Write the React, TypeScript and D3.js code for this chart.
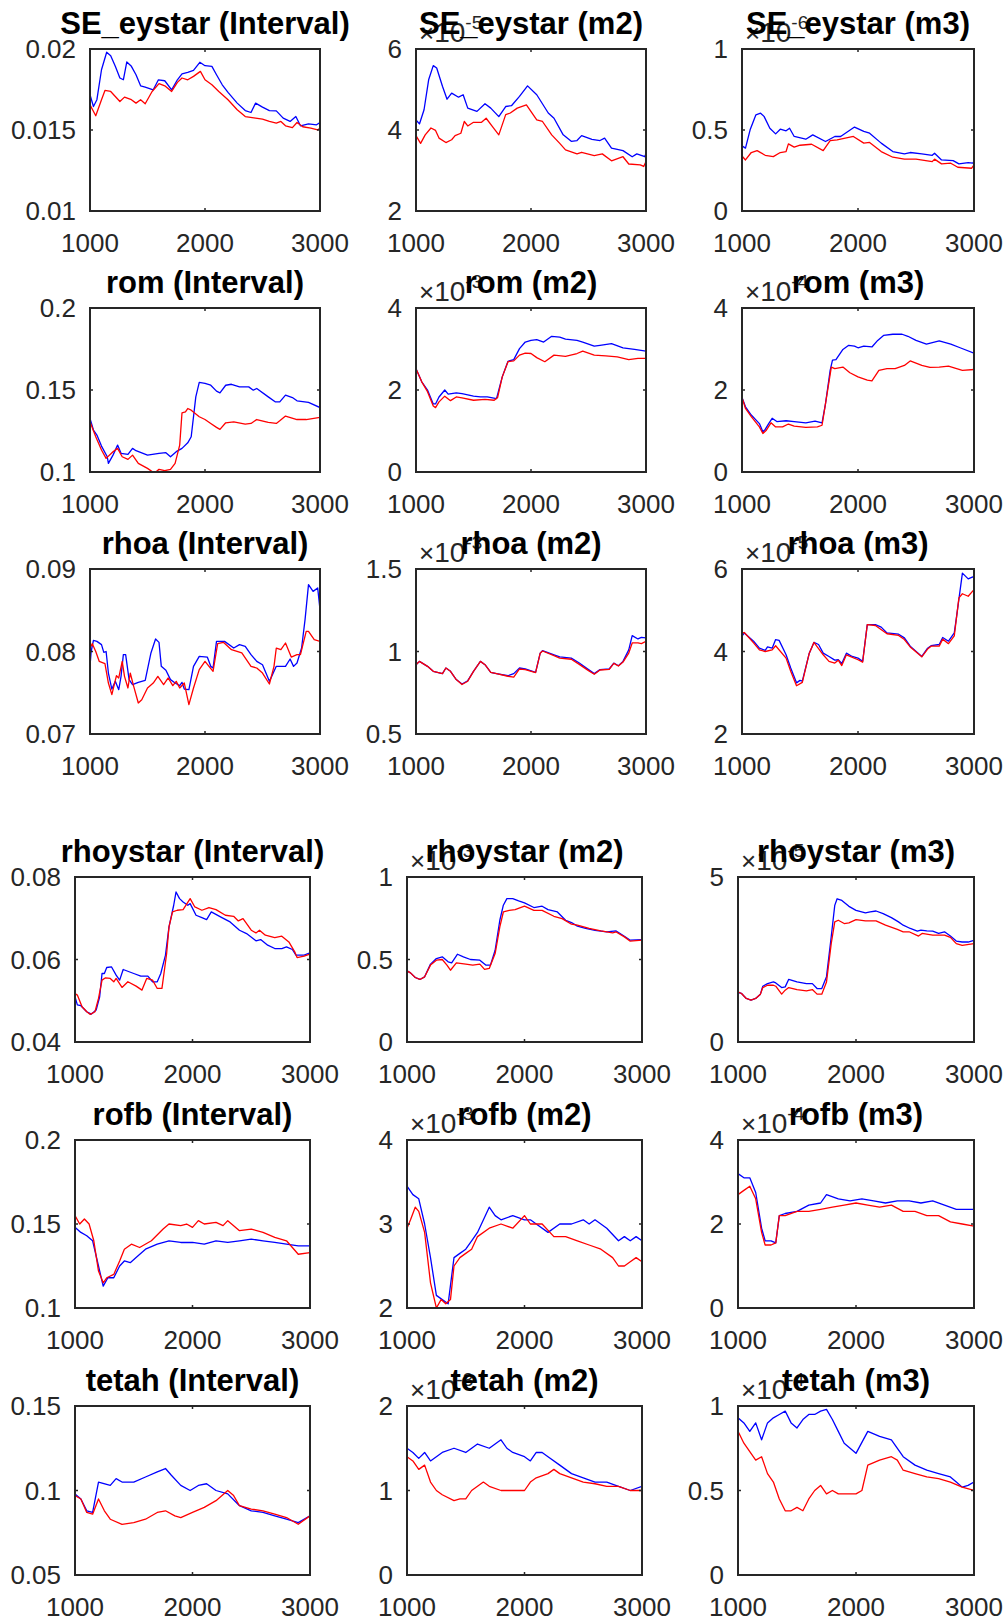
import React from 'react';
import * as d3 from 'd3';

type Pt = [number, number];

// ---------- X axis ----------
const xDomain: [number, number] = [1000, 3000];
const xTicks = [1000, 2000, 3000];

// ---------- SE_eystar ----------
const seIntBlue: Pt[] = [[1000,0.01718],[1030,0.01645],[1060,0.01687],[1100,0.01872],[1145,0.0198],[1180,0.01959],[1220,0.01893],[1260,0.01821],[1290,0.0181],[1320,0.0192],[1360,0.01893],[1400,0.01841],[1440,0.01773],[1480,0.01765],[1550,0.01748],[1595,0.0181],[1650,0.01804],[1710,0.01748],[1760,0.0181],[1800,0.01847],[1850,0.01856],[1900,0.01868],[1955,0.01918],[2000,0.01897],[2060,0.01893],[2100,0.01841],[2150,0.01779],[2200,0.01732],[2280,0.01666],[2350,0.0162],[2400,0.01608],[2440,0.01666],[2500,0.01641],[2560,0.0162],[2620,0.01618],[2680,0.01573],[2740,0.01553],[2790,0.01583],[2830,0.01526],[2900,0.01538],[2970,0.01532],[3000,0.01546]];
const seIntRed: Pt[] = [[1000,0.01656],[1050,0.01588],[1100,0.01687],[1130,0.01744],[1180,0.01738],[1260,0.01676],[1300,0.01703],[1360,0.01687],[1400,0.01666],[1440,0.01687],[1480,0.01662],[1540,0.01738],[1600,0.01786],[1650,0.01773],[1710,0.01738],[1760,0.01794],[1800,0.01821],[1850,0.0181],[1900,0.01831],[1960,0.01862],[2000,0.0181],[2060,0.01779],[2120,0.01738],[2200,0.01687],[2280,0.01625],[2350,0.01583],[2440,0.01573],[2500,0.01567],[2560,0.01553],[2620,0.01542],[2660,0.01553],[2700,0.01526],[2760,0.01515],[2800,0.01546],[2850,0.0152],[2920,0.01511],[2980,0.01501],[3000,0.01511]];
const seM2Blue: Pt[] = [[1000,4.25],[1030,4.15],[1070,4.5],[1110,5.24],[1150,5.59],[1180,5.53],[1230,5.08],[1270,4.76],[1310,4.91],[1370,4.81],[1410,4.87],[1450,4.54],[1530,4.46],[1600,4.65],[1650,4.54],[1720,4.33],[1780,4.58],[1830,4.6],[1900,4.83],[1970,5.09],[2050,4.87],[2150,4.42],[2200,4.29],[2280,3.88],[2350,3.72],[2400,3.74],[2440,3.86],[2530,3.77],[2600,3.74],[2640,3.8],[2700,3.55],[2800,3.49],[2880,3.34],[2920,3.41],[2990,3.34],[3000,3.43]];
const seM2Red: Pt[] = [[1000,3.86],[1040,3.67],[1080,3.88],[1130,4.05],[1170,3.99],[1200,3.8],[1260,3.69],[1310,3.76],[1340,3.86],[1390,3.92],[1420,4.21],[1450,4.1],[1500,4.19],[1570,4.19],[1610,4.29],[1660,4.1],[1720,3.88],[1780,4.38],[1820,4.42],[1880,4.54],[1960,4.62],[2050,4.25],[2100,4.21],[2180,3.88],[2250,3.67],[2300,3.51],[2400,3.41],[2440,3.45],[2550,3.37],[2620,3.41],[2700,3.24],[2800,3.34],[2850,3.16],[2950,3.14],[2980,3.1],[3000,3.22]];
const seM3Blue: Pt[] = [[1000,0.402],[1030,0.388],[1070,0.501],[1120,0.594],[1160,0.604],[1190,0.584],[1240,0.511],[1290,0.476],[1330,0.505],[1380,0.495],[1410,0.511],[1450,0.46],[1550,0.443],[1610,0.47],[1720,0.429],[1800,0.46],[1850,0.46],[1970,0.518],[2050,0.491],[2100,0.48],[2200,0.419],[2300,0.367],[2400,0.353],[2450,0.361],[2550,0.353],[2640,0.344],[2660,0.357],[2720,0.315],[2820,0.311],[2870,0.291],[2950,0.299],[2990,0.295],[3000,0.309]];
const seM3Red: Pt[] = [[1000,0.34],[1030,0.315],[1080,0.361],[1130,0.373],[1200,0.344],[1270,0.336],[1330,0.361],[1380,0.367],[1400,0.414],[1450,0.394],[1500,0.406],[1600,0.412],[1700,0.373],[1760,0.435],[1820,0.439],[1960,0.46],[2050,0.419],[2100,0.423],[2200,0.367],[2300,0.332],[2400,0.32],[2500,0.32],[2640,0.305],[2660,0.32],[2720,0.291],[2800,0.295],[2860,0.27],[2980,0.264],[3000,0.285]];

// ---------- rom ----------
const romIntBlue: Pt[] = [[1000,0.1327],[1030,0.1256],[1060,0.1225],[1100,0.1158],[1150,0.1093],[1160,0.1053],[1200,0.1103],[1240,0.1164],[1270,0.1114],[1330,0.1107],[1370,0.1144],[1400,0.113],[1500,0.1103],[1600,0.1114],[1660,0.1118],[1700,0.1093],[1750,0.1124],[1800,0.1144],[1850,0.1178],[1880,0.1215],[1920,0.1458],[1950,0.1546],[2000,0.154],[2050,0.1529],[2100,0.1493],[2130,0.1483],[2180,0.1529],[2230,0.1535],[2300,0.1519],[2380,0.1519],[2420,0.1499],[2450,0.1509],[2550,0.1458],[2610,0.1428],[2650,0.1428],[2700,0.1469],[2760,0.1454],[2800,0.1434],[2900,0.1424],[3000,0.1393]];
const romIntRed: Pt[] = [[1000,0.1306],[1050,0.1215],[1100,0.1134],[1140,0.1083],[1200,0.1124],[1240,0.1144],[1280,0.1093],[1330,0.1077],[1370,0.1103],[1420,0.1053],[1500,0.1022],[1560,0.0993],[1600,0.1016],[1650,0.1008],[1700,0.1016],[1740,0.1053],[1780,0.1164],[1800,0.1361],[1830,0.1367],[1850,0.1387],[1880,0.1377],[1950,0.1337],[2000,0.132],[2050,0.1296],[2100,0.1272],[2130,0.126],[2180,0.13],[2250,0.1306],[2350,0.1292],[2400,0.1296],[2450,0.132],[2550,0.1302],[2620,0.1296],[2650,0.1312],[2700,0.1341],[2800,0.132],[2880,0.132],[3000,0.1333]];
const romM2Blue: Pt[] = [[1000,2.52],[1050,2.2],[1100,2.0],[1150,1.66],[1170,1.66],[1200,1.83],[1250,2.0],[1280,1.9],[1350,1.93],[1400,1.91],[1500,1.85],[1560,1.83],[1620,1.83],[1700,1.79],[1750,2.32],[1800,2.7],[1850,2.74],[1900,3.01],[1950,3.17],[2000,3.21],[2050,3.23],[2110,3.17],[2180,3.31],[2250,3.29],[2300,3.24],[2400,3.21],[2450,3.17],[2550,3.07],[2600,3.09],[2700,3.13],[2800,3.03],[2900,2.99],[3000,2.95]];
const romM2Red: Pt[] = [[1000,2.52],[1050,2.2],[1100,1.96],[1150,1.61],[1170,1.57],[1200,1.71],[1250,1.85],[1300,1.74],[1350,1.83],[1400,1.81],[1500,1.75],[1600,1.77],[1680,1.75],[1710,1.82],[1750,2.32],[1800,2.69],[1850,2.71],[1900,2.85],[1950,2.9],[2000,2.89],[2050,2.79],[2120,2.69],[2200,2.85],[2300,2.82],[2400,2.89],[2450,2.95],[2550,2.85],[2650,2.83],[2750,2.81],[2850,2.74],[2930,2.77],[3000,2.77]];
const romM3Blue: Pt[] = [[1000,1.82],[1030,1.59],[1080,1.39],[1150,1.18],[1180,0.98],[1200,1.04],[1230,1.18],[1260,1.31],[1300,1.23],[1380,1.25],[1450,1.23],[1550,1.2],[1630,1.24],[1690,1.2],[1720,1.67],[1760,2.48],[1780,2.73],[1810,2.74],[1870,2.99],[1920,3.09],[1970,3.07],[2000,3.03],[2050,3.07],[2120,3.05],[2170,3.21],[2220,3.33],[2300,3.36],[2380,3.36],[2430,3.31],[2500,3.21],[2590,3.12],[2700,3.2],[2800,3.12],[2880,3.03],[3000,2.9]];
const romM3Red: Pt[] = [[1000,1.82],[1030,1.55],[1080,1.35],[1150,1.1],[1180,0.94],[1210,1.02],[1250,1.2],[1290,1.1],[1350,1.1],[1400,1.17],[1450,1.12],[1550,1.09],[1650,1.1],[1690,1.14],[1720,1.67],[1770,2.56],[1800,2.52],[1870,2.56],[1930,2.42],[2000,2.32],[2080,2.24],[2120,2.22],[2180,2.48],[2250,2.52],[2320,2.52],[2400,2.6],[2450,2.71],[2550,2.6],[2620,2.55],[2700,2.56],[2780,2.58],[2850,2.52],[2900,2.48],[3000,2.5]];

// ---------- rhoa ----------
const rhoaIntBlue: Pt[] = [[1000,0.0782],[1010,0.08],[1030,0.08135],[1060,0.08123],[1100,0.08083],[1120,0.0799],[1140,0.08],[1160,0.07739],[1190,0.07545],[1220,0.07638],[1250,0.07537],[1270,0.07699],[1290,0.07962],[1310,0.07962],[1340,0.07659],[1370,0.07598],[1420,0.07626],[1480,0.0765],[1530,0.07982],[1570,0.08152],[1600,0.08111],[1620,0.0782],[1660,0.07772],[1700,0.07659],[1740,0.07618],[1780,0.07586],[1800,0.07626],[1820,0.07545],[1860,0.07537],[1900,0.0782],[1950,0.07941],[2020,0.07933],[2050,0.0782],[2070,0.078],[2100,0.08123],[2170,0.08123],[2250,0.08042],[2300,0.08083],[2350,0.08063],[2400,0.07962],[2450,0.07881],[2500,0.0784],[2560,0.07638],[2620,0.0782],[2700,0.0782],[2740,0.07909],[2770,0.0782],[2800,0.07861],[2840,0.08042],[2870,0.08386],[2900,0.0881],[2940,0.08729],[2980,0.0877],[3000,0.08507]];
const rhoaIntRed: Pt[] = [[1000,0.08042],[1020,0.08095],[1050,0.08],[1080,0.07881],[1130,0.07853],[1160,0.07618],[1190,0.07477],[1230,0.07707],[1250,0.07679],[1280,0.07881],[1300,0.07699],[1330,0.07558],[1350,0.07739],[1380,0.07578],[1420,0.07376],[1450,0.07416],[1500,0.07558],[1550,0.07618],[1590,0.07699],[1640,0.07598],[1680,0.07679],[1720,0.07586],[1750,0.07638],[1780,0.07558],[1820,0.07618],[1860,0.07356],[1900,0.07558],[1950,0.0778],[2000,0.07881],[2070,0.0776],[2110,0.08095],[2160,0.08111],[2230,0.08022],[2320,0.07982],[2400,0.0782],[2450,0.078],[2500,0.07739],[2560,0.07606],[2600,0.0782],[2620,0.08042],[2660,0.08022],[2700,0.08103],[2750,0.07933],[2800,0.07962],[2830,0.07962],[2880,0.08244],[2900,0.08244],[2950,0.08143],[3000,0.08123]];
const rhoaM2Blue: Pt[] = [[1000,0.92],[1030,0.94],[1100,0.91],[1150,0.88],[1230,0.866],[1260,0.9],[1300,0.88],[1350,0.83],[1400,0.803],[1450,0.823],[1500,0.88],[1560,0.94],[1600,0.92],[1650,0.874],[1700,0.866],[1800,0.853],[1850,0.866],[1900,0.9],[1950,0.894],[2040,0.874],[2080,0.99],[2100,1.005],[2200,0.98],[2250,0.967],[2350,0.96],[2420,0.93],[2500,0.89],[2550,0.866],[2600,0.89],[2680,0.894],[2720,0.93],[2760,0.914],[2800,0.94],[2850,1.01],[2880,1.096],[2930,1.076],[2960,1.086],[3000,1.082]];
const rhoaM2Red: Pt[] = [[1000,0.92],[1030,0.94],[1100,0.91],[1150,0.88],[1230,0.866],[1260,0.9],[1300,0.88],[1350,0.83],[1400,0.8],[1450,0.82],[1500,0.88],[1560,0.94],[1600,0.92],[1650,0.874],[1700,0.866],[1800,0.85],[1850,0.845],[1900,0.894],[1950,0.89],[2040,0.872],[2080,0.99],[2100,1.003],[2200,0.975],[2250,0.96],[2350,0.953],[2420,0.922],[2500,0.884],[2550,0.862],[2600,0.888],[2680,0.892],[2720,0.928],[2760,0.912],[2800,0.936],[2850,0.99],[2880,1.052],[2930,1.052],[2960,1.048],[3000,1.062]];
const rhoaM3Blue: Pt[] = [[1000,4.37],[1020,4.45],[1100,4.25],[1150,4.08],[1200,4.03],[1220,4.11],[1260,4.08],[1290,4.29],[1320,4.27],[1380,3.92],[1420,3.6],[1470,3.24],[1500,3.3],[1520,3.28],[1580,3.96],[1620,4.22],[1660,4.17],[1700,3.96],[1750,3.88],[1800,3.79],[1830,3.8],[1860,3.71],[1900,3.96],[1950,3.88],[2000,3.84],[2040,3.76],[2080,4.65],[2150,4.65],[2200,4.59],[2250,4.45],[2350,4.42],[2400,4.33],[2450,4.13],[2550,3.88],[2600,4.08],[2630,4.14],[2700,4.17],[2730,4.34],[2780,4.25],[2830,4.45],[2850,4.85],[2900,5.9],[2950,5.76],[2990,5.81],[3000,5.78]];
const rhoaM3Red: Pt[] = [[1000,4.45],[1020,4.46],[1100,4.21],[1150,4.04],[1200,4.0],[1260,4.04],[1290,4.14],[1380,3.84],[1420,3.52],[1470,3.17],[1520,3.25],[1580,3.96],[1620,4.22],[1700,3.92],[1750,3.76],[1800,3.72],[1830,3.79],[1860,3.66],[1900,3.92],[2000,3.8],[2040,3.74],[2080,4.65],[2150,4.63],[2250,4.43],[2350,4.39],[2400,4.29],[2450,4.11],[2550,3.87],[2600,4.06],[2630,4.13],[2700,4.13],[2730,4.3],[2780,4.19],[2830,4.38],[2870,5.3],[2900,5.4],[2950,5.34],[3000,5.5]];

// ---------- rhoystar ----------
const rhoyIntBlue: Pt[] = [[1000,0.05097],[1020,0.049],[1050,0.0488],[1100,0.04734],[1140,0.04677],[1180,0.04774],[1210,0.05097],[1230,0.05661],[1250,0.05661],[1270,0.05806],[1310,0.05823],[1350,0.05621],[1380,0.055],[1410,0.05758],[1500,0.05661],[1560,0.05597],[1620,0.05597],[1660,0.0546],[1700,0.0546],[1730,0.05661],[1770,0.06105],[1800,0.0679],[1840,0.07315],[1860,0.07637],[1890,0.07476],[1920,0.07395],[1960,0.07315],[1980,0.07355],[2030,0.07073],[2080,0.07016],[2120,0.06968],[2160,0.07153],[2250,0.07016],[2320,0.06911],[2400,0.0671],[2460,0.06629],[2540,0.06452],[2580,0.06484],[2640,0.06347],[2700,0.06266],[2760,0.06266],[2800,0.06306],[2850,0.06242],[2880,0.06105],[2950,0.06105],[3000,0.06161]];
const rhoyIntRed: Pt[] = [[1000,0.05177],[1020,0.05137],[1060,0.04855],[1100,0.04734],[1130,0.04669],[1170,0.04734],[1200,0.05056],[1230,0.055],[1260,0.05556],[1300,0.0554],[1330,0.0546],[1350,0.0554],[1400,0.05323],[1450,0.0546],[1520,0.05355],[1570,0.05258],[1610,0.0554],[1660,0.055],[1700,0.05298],[1740,0.05298],[1780,0.06145],[1800,0.0679],[1830,0.07153],[1870,0.07194],[1920,0.0721],[1980,0.07476],[2020,0.07274],[2080,0.07194],[2140,0.0726],[2200,0.0721],[2280,0.07073],[2350,0.07048],[2390,0.06935],[2430,0.06992],[2500,0.0671],[2540,0.06645],[2570,0.0671],[2620,0.06589],[2700,0.06532],[2760,0.06565],[2820,0.06427],[2870,0.06185],[2890,0.06048],[2950,0.06081],[3000,0.06129]];
const rhoyM2Blue: Pt[] = [[1000,0.431],[1030,0.419],[1070,0.391],[1110,0.379],[1150,0.395],[1200,0.472],[1250,0.506],[1300,0.516],[1350,0.486],[1380,0.48],[1430,0.532],[1480,0.516],[1540,0.5],[1620,0.496],[1670,0.466],[1710,0.466],[1750,0.556],[1790,0.738],[1820,0.829],[1850,0.869],[1900,0.869],[1950,0.855],[2000,0.843],[2080,0.815],[2150,0.823],[2200,0.802],[2280,0.788],[2350,0.738],[2400,0.724],[2450,0.702],[2520,0.688],[2600,0.677],[2700,0.667],[2780,0.673],[2850,0.641],[2900,0.617],[3000,0.621]];
const rhoyM2Red: Pt[] = [[1000,0.431],[1030,0.419],[1070,0.391],[1110,0.379],[1150,0.395],[1200,0.466],[1250,0.496],[1300,0.5],[1340,0.466],[1370,0.435],[1420,0.48],[1500,0.472],[1560,0.466],[1620,0.472],[1660,0.44],[1700,0.446],[1750,0.536],[1790,0.698],[1820,0.788],[1870,0.798],[1920,0.802],[2000,0.823],[2080,0.798],[2150,0.798],[2250,0.762],[2320,0.748],[2400,0.714],[2450,0.708],[2550,0.688],[2650,0.673],[2750,0.661],[2780,0.667],[2850,0.637],[2900,0.611],[3000,0.617]];
const rhoyM3Blue: Pt[] = [[1000,1.5],[1030,1.47],[1070,1.32],[1110,1.27],[1150,1.32],[1190,1.45],[1210,1.69],[1250,1.77],[1300,1.82],[1320,1.79],[1370,1.65],[1400,1.67],[1430,1.9],[1500,1.82],[1580,1.77],[1630,1.77],[1670,1.62],[1710,1.62],[1750,1.98],[1790,3.19],[1820,4.14],[1840,4.34],[1880,4.29],[1940,4.11],[2000,3.99],[2080,3.91],[2120,3.94],[2170,3.97],[2230,3.89],[2300,3.77],[2360,3.64],[2400,3.54],[2460,3.44],[2520,3.36],[2550,3.39],[2600,3.37],[2650,3.36],[2700,3.29],[2750,3.34],[2800,3.21],[2850,3.06],[2900,3.03],[2950,3.03],[3000,3.08]];
const rhoyM3Red: Pt[] = [[1000,1.52],[1030,1.47],[1070,1.32],[1110,1.27],[1150,1.32],[1190,1.45],[1210,1.65],[1250,1.72],[1300,1.72],[1320,1.69],[1370,1.45],[1400,1.57],[1430,1.65],[1500,1.59],[1580,1.55],[1630,1.59],[1670,1.45],[1710,1.45],[1750,1.82],[1790,2.98],[1820,3.64],[1850,3.69],[1900,3.59],[1940,3.61],[2000,3.71],[2080,3.67],[2170,3.67],[2250,3.54],[2350,3.41],[2400,3.34],[2450,3.34],[2530,3.21],[2560,3.29],[2650,3.24],[2750,3.24],[2800,3.17],[2850,2.98],[2900,2.93],[3000,2.98]];

// ---------- rofb ----------
const rofbIntBlue: Pt[] = [[1000,0.148],[1050,0.145],[1100,0.143],[1150,0.14],[1200,0.125],[1240,0.113],[1280,0.118],[1330,0.118],[1380,0.125],[1420,0.128],[1470,0.127],[1520,0.13],[1600,0.135],[1700,0.138],[1800,0.14],[1900,0.139],[2000,0.139],[2100,0.138],[2200,0.14],[2300,0.139],[2400,0.14],[2500,0.141],[2600,0.14],[2700,0.139],[2800,0.138],[2900,0.137],[3000,0.137]];
const rofbIntRed: Pt[] = [[1000,0.155],[1040,0.15],[1080,0.153],[1120,0.15],[1160,0.14],[1200,0.122],[1240,0.115],[1270,0.118],[1330,0.12],[1380,0.128],[1420,0.135],[1480,0.138],[1550,0.136],[1650,0.14],[1750,0.147],[1800,0.15],[1900,0.149],[1950,0.15],[2000,0.148],[2050,0.152],[2100,0.15],[2200,0.151],[2260,0.149],[2300,0.152],[2400,0.146],[2500,0.147],[2600,0.145],[2700,0.142],[2800,0.14],[2900,0.132],[3000,0.133]];
const rofbM2Blue: Pt[] = [[1000,3.45],[1050,3.35],[1100,3.3],[1150,3.0],[1200,2.6],[1250,2.15],[1300,2.1],[1350,2.05],[1400,2.6],[1450,2.65],[1500,2.7],[1550,2.8],[1600,2.9],[1700,3.2],[1750,3.1],[1800,3.05],[1900,3.1],[2000,3.05],[2050,3.05],[2100,3.0],[2200,2.9],[2300,3.0],[2400,3.0],[2500,3.05],[2550,3.0],[2600,3.05],[2700,2.95],[2800,2.8],[2850,2.85],[2900,2.8],[2950,2.85],[3000,2.8]];
const rofbM2Red: Pt[] = [[1000,2.95],[1030,3.05],[1070,3.2],[1100,3.15],[1150,2.9],[1200,2.3],[1250,2.0],[1290,2.1],[1330,2.05],[1370,2.1],[1400,2.5],[1450,2.6],[1500,2.65],[1550,2.7],[1600,2.85],[1700,2.95],[1800,3.0],[1900,2.95],[2000,3.1],[2050,3.0],[2150,3.0],[2250,2.85],[2350,2.85],[2450,2.8],[2550,2.75],[2650,2.7],[2750,2.6],[2800,2.5],[2850,2.5],[2900,2.55],[2950,2.6],[3000,2.55]];
const rofbM3Blue: Pt[] = [[1000,3.2],[1050,3.1],[1100,3.1],[1150,2.75],[1200,1.9],[1230,1.6],[1280,1.6],[1320,1.55],[1350,2.2],[1400,2.25],[1500,2.3],[1600,2.45],[1700,2.5],[1750,2.7],[1850,2.6],[1950,2.55],[2050,2.6],[2150,2.55],[2250,2.5],[2350,2.55],[2450,2.55],[2550,2.5],[2650,2.55],[2750,2.45],[2850,2.35],[2950,2.35],[3000,2.35]];
const rofbM3Red: Pt[] = [[1000,2.7],[1050,2.8],[1100,2.9],[1150,2.6],[1200,1.8],[1230,1.5],[1280,1.5],[1320,1.55],[1350,2.2],[1400,2.2],[1500,2.3],[1600,2.3],[1700,2.35],[1800,2.4],[1900,2.45],[2000,2.5],[2100,2.45],[2200,2.4],[2300,2.45],[2400,2.3],[2500,2.3],[2600,2.2],[2700,2.2],[2800,2.05],[2900,2.0],[3000,1.95]];

// ---------- tetah ----------
const tetahIntBlue: Pt[] = [[1000,0.098],[1050,0.095],[1100,0.088],[1150,0.087],[1200,0.105],[1300,0.103],[1350,0.107],[1400,0.105],[1500,0.105],[1600,0.108],[1700,0.111],[1770,0.113],[1820,0.109],[1900,0.103],[1980,0.1],[2050,0.103],[2120,0.104],[2200,0.1],[2300,0.098],[2400,0.091],[2500,0.088],[2600,0.087],[2700,0.085],[2800,0.083],[2900,0.081],[3000,0.085]];
const tetahIntRed: Pt[] = [[1000,0.097],[1050,0.095],[1100,0.087],[1150,0.086],[1200,0.095],[1250,0.088],[1300,0.083],[1400,0.08],[1500,0.081],[1600,0.083],[1700,0.087],[1770,0.088],[1850,0.085],[1900,0.084],[2000,0.087],[2100,0.09],[2200,0.094],[2300,0.1],[2350,0.097],[2400,0.091],[2500,0.089],[2600,0.088],[2700,0.086],[2800,0.084],[2900,0.08],[3000,0.085]];
const tetahM2Blue: Pt[] = [[1000,1.5],[1050,1.45],[1100,1.38],[1150,1.45],[1200,1.35],[1300,1.45],[1400,1.5],[1500,1.45],[1550,1.5],[1600,1.55],[1700,1.5],[1750,1.55],[1800,1.6],[1850,1.5],[1900,1.45],[2000,1.4],[2050,1.35],[2100,1.45],[2150,1.45],[2200,1.4],[2300,1.3],[2400,1.2],[2500,1.15],[2600,1.1],[2700,1.1],[2800,1.05],[2900,1.0],[3000,1.05]];
const tetahM2Red: Pt[] = [[1000,1.4],[1050,1.35],[1100,1.25],[1150,1.3],[1200,1.1],[1250,1.0],[1300,0.95],[1400,0.88],[1450,0.9],[1500,0.9],[1550,1.0],[1650,1.1],[1700,1.05],[1800,1.0],[1900,1.0],[2000,1.0],[2050,1.1],[2100,1.15],[2200,1.2],[2250,1.25],[2300,1.2],[2400,1.15],[2500,1.1],[2600,1.08],[2700,1.05],[2800,1.05],[2900,1.0],[3000,1.0]];
const tetahM3Blue: Pt[] = [[1000,0.93],[1050,0.9],[1100,0.85],[1150,0.9],[1200,0.8],[1250,0.9],[1300,0.93],[1350,0.95],[1400,0.97],[1450,0.9],[1500,0.87],[1550,0.92],[1600,0.95],[1650,0.95],[1700,0.97],[1750,0.98],[1800,0.92],[1850,0.85],[1900,0.78],[1950,0.75],[2000,0.72],[2100,0.85],[2200,0.82],[2300,0.8],[2400,0.7],[2500,0.65],[2600,0.62],[2700,0.6],[2800,0.58],[2850,0.55],[2900,0.52],[2950,0.53],[3000,0.55]];
const tetahM3Red: Pt[] = [[1000,0.85],[1050,0.78],[1100,0.73],[1150,0.68],[1200,0.7],[1250,0.6],[1300,0.55],[1350,0.45],[1400,0.38],[1450,0.38],[1500,0.4],[1550,0.38],[1600,0.45],[1650,0.5],[1700,0.53],[1750,0.48],[1800,0.5],[1850,0.48],[1900,0.48],[2000,0.48],[2050,0.5],[2100,0.65],[2200,0.68],[2300,0.7],[2350,0.68],[2400,0.62],[2500,0.6],[2600,0.58],[2700,0.57],[2800,0.55],[2900,0.52],[3000,0.5]];

// ---------- panel descriptions ----------
const titles = [
  'SE_eystar (Interval)', 'SE_eystar (m2)', 'SE_eystar (m3)',
  'rom (Interval)', 'rom (m2)', 'rom (m3)',
  'rhoa (Interval)', 'rhoa (m2)', 'rhoa (m3)',
  'rhoystar (Interval)', 'rhoystar (m2)', 'rhoystar (m3)',
  'rofb (Interval)', 'rofb (m2)', 'rofb (m3)',
  'tetah (Interval)', 'tetah (m2)', 'tetah (m3)',
];
const yDomains: [number, number][] = [
  [0.01, 0.02], [2, 6], [0, 1],
  [0.1, 0.2], [0, 4], [0, 4],
  [0.07, 0.09], [0.5, 1.5], [2, 6],
  [0.04, 0.08], [0, 1], [0, 5],
  [0.1, 0.2], [2, 4], [0, 4],
  [0.05, 0.15], [0, 2], [0, 1],
];
const yTicks: number[][] = [
  [0.01, 0.015, 0.02], [2, 4, 6], [0, 0.5, 1],
  [0.1, 0.15, 0.2], [0, 2, 4], [0, 2, 4],
  [0.07, 0.08, 0.09], [0.5, 1, 1.5], [2, 4, 6],
  [0.04, 0.06, 0.08], [0, 0.5, 1], [0, 5],
  [0.1, 0.15, 0.2], [2, 3, 4], [0, 2, 4],
  [0.05, 0.1, 0.15], [0, 1, 2], [0, 0.5, 1],
];
const exponents: (number | null)[] = [
  null, -5, -6,
  null, -3, -4,
  null, -3, -5,
  null, -3, -5,
  null, -3, -4,
  null, -3, -4,
];
const blueSeries: Pt[][] = [
  seIntBlue, seM2Blue, seM3Blue, romIntBlue, romM2Blue, romM3Blue,
  rhoaIntBlue, rhoaM2Blue, rhoaM3Blue, rhoyIntBlue, rhoyM2Blue, rhoyM3Blue,
  rofbIntBlue, rofbM2Blue, rofbM3Blue, tetahIntBlue, tetahM2Blue, tetahM3Blue,
];
const redSeries: Pt[][] = [
  seIntRed, seM2Red, seM3Red, romIntRed, romM2Red, romM3Red,
  rhoaIntRed, rhoaM2Red, rhoaM3Red, rhoyIntRed, rhoyM2Red, rhoyM3Red,
  rofbIntRed, rofbM2Red, rofbM3Red, tetahIntRed, tetahM2Red, tetahM3Red,
];

// ---------- layout (two stacked figures) ----------
const topCols: [number, number][] = [[90, 320], [416, 646], [742, 974]];
const topRows: [number, number][] = [[49, 211], [308, 472], [569, 734]];
const botCols: [number, number][] = [[75, 310], [407, 642], [738, 974]];
const botRows: [number, number][] = [[877, 1042], [1140, 1308], [1406, 1575]];

const FONT = '"Liberation Sans", Arial, Helvetica, sans-serif';
const AX = '#262626';
const TICK_FS = 26;
const TITLE_FS = 31;

function Panel({ idx }: { idx: number }) {
  const r = Math.floor(idx / 3), c = idx % 3;
  const cols = r < 3 ? topCols : botCols;
  const rows = r < 3 ? topRows : botRows;
  const [x0, x1] = cols[c];
  const [y0, y1] = rows[r % 3];
  const x = d3.scaleLinear().domain(xDomain).range([x0, x1]);
  const y = d3.scaleLinear().domain(yDomains[idx]).range([y1, y0]);
  const line = d3.line<Pt>().x(d => x(d[0])).y(d => y(d[1]));
  const clipId = `clip${idx}`;
  const tl = 3;
  const exp = exponents[idx];
  return (
    <g>
      <defs>
        <clipPath id={clipId}>
          <rect x={x0} y={y0} width={x1 - x0} height={y1 - y0} />
        </clipPath>
      </defs>
      <rect x={x0} y={y0} width={x1 - x0} height={y1 - y0} fill="#fff" />
      <g clipPath={`url(#${clipId})`}>
        <path d={line(blueSeries[idx]) || ''} fill="none" stroke="#0000ff" strokeWidth={1.3} strokeLinejoin="round" />
        <path d={line(redSeries[idx]) || ''} fill="none" stroke="#ff0000" strokeWidth={1.3} strokeLinejoin="round" />
      </g>
      {xTicks.map(t => (
        <g key={'xt' + t}>
          <line x1={x(t)} x2={x(t)} y1={y1} y2={y1 - tl} stroke={AX} strokeWidth={1.5} />
          <line x1={x(t)} x2={x(t)} y1={y0} y2={y0 + tl} stroke={AX} strokeWidth={1.5} />
          <text x={x(t)} y={y1 + 41} textAnchor="middle" fontSize={TICK_FS} fill={AX} fontFamily={FONT}>{t}</text>
        </g>
      ))}
      {yTicks[idx].map(t => (
        <g key={'yt' + t}>
          <line x1={x0} x2={x0 + tl} y1={y(t)} y2={y(t)} stroke={AX} strokeWidth={1.5} />
          <line x1={x1} x2={x1 - tl} y1={y(t)} y2={y(t)} stroke={AX} strokeWidth={1.5} />
          <text x={x0 - 14} y={y(t) + 9} textAnchor="end" fontSize={TICK_FS} fill={AX} fontFamily={FONT}>{String(t)}</text>
        </g>
      ))}
      <rect x={x0} y={y0} width={x1 - x0} height={y1 - y0} fill="none" stroke={AX} strokeWidth={2} />
      {exp !== null && (
        <text x={x0 + 3} y={y0 - 7} fontSize={TICK_FS} fill={AX} fontFamily={FONT}>
          <tspan>{'\u00d7'}</tspan>
          <tspan fontSize={28}>{'10'}</tspan>
          <tspan dy={-13} fontSize={19}>{String(exp)}</tspan>
        </text>
      )}
      <text x={(x0 + x1) / 2} y={y0 - 15} textAnchor="middle" fontSize={TITLE_FS} fontWeight="bold" fill="#000" fontFamily={FONT}>
        {titles[idx]}
      </text>
    </g>
  );
}

export default function App() {
  return (
    <svg width={1008} height={1618} style={{ position: 'absolute', left: 0, top: 0, background: '#fff' }}>
      <rect width={1008} height={1618} fill="#fff" />
      {titles.map((_, i) => <Panel key={i} idx={i} />)}
    </svg>
  );
}
